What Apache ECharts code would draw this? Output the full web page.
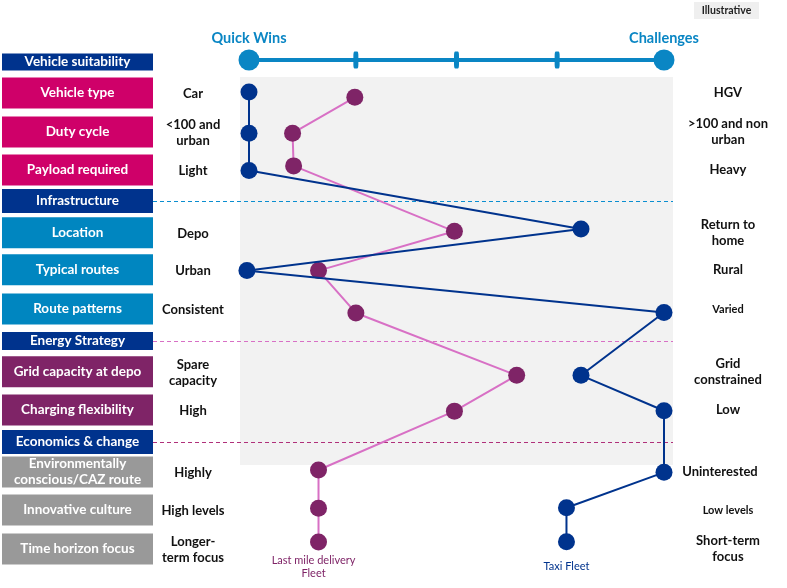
<!DOCTYPE html>
<html><head><meta charset="utf-8">
<script src="https://cdn.jsdelivr.net/npm/echarts@6/dist/echarts.min.js"></script>
<style>html,body{margin:0;padding:0;background:#fff}#c{width:787px;height:588px}</style>
</head><body><div id="c"></div>
<script>
// ---- data ----
const groups = ['Vehicle suitability', 'Infrastructure', 'Energy Strategy', 'Economics & change'];
const groupPos = [0.18, 3.79, 7.43, 10.05];
const categories = ['Vehicle type', 'Duty cycle', 'Payload required', 'Location', 'Typical routes', 'Route patterns',
  'Grid capacity at depo', 'Charging flexibility', 'Environmentally\nconscious/CAZ route', 'Innovative culture', 'Time horizon focus'];
const categoryGroup = [0, 0, 0, 1, 1, 1, 2, 2, 3, 3, 3];
const rowPos = [0.99, 2.0, 2.99, 4.62, 5.58, 6.60, 8.23, 9.22, 10.83, 11.82, 12.83];
const lowLabels = ['Car', '<100 and\nurban', 'Light', 'Depo', 'Urban', 'Consistent', 'Spare\ncapacity', 'High', 'Highly', 'High levels', 'Longer-\nterm focus'];
const highLabels = ['HGV', '>100 and non\nurban', 'Heavy', 'Return to\nhome', 'Rural', 'Varied', 'Grid\nconstrained', 'Low', 'Uninterested', 'Low levels', 'Short-term\nfocus'];
const scaleEnds = ['Quick Wins', 'Challenges'];
const scaleTicks = [1.03, 2.0, 2.97];
const scaleRow = 0.13;
const taxiName = 'Taxi Fleet';
const taxiScore = [0, 0, 0, 3.2, -0.02, 4, 3.2, 4, 4, 3.06, 3.06];
const taxiRow = [0.96, 2.03, 3.0, 4.52, 5.6, 6.69, 8.32, 9.24, 10.84, 11.76, 12.64];
const lastMileName = 'Last mile delivery\nFleet';
const lastMileScore = [1.02, 0.42, 0.43, 1.98, 0.67, 1.03, 2.58, 1.98, 0.67, 0.67, 0.67];
const lastMileRow = [1.10, 2.03, 2.88, 4.58, 5.6, 6.7, 8.32, 9.25, 10.78, 11.77, 12.65];
const tagText = 'Illustrative';

// ---- styles ----
const FONT = 'Lato, "Open Sans", sans-serif';
const NAVY = '#00338d', BLUE = '#0a86c4', MAGENTA = '#cf0069', PURPLE = '#7f2467', GREY = '#999999';
const groupColors = [MAGENTA, '#0086c0', PURPLE, GREY];
const sepColors = [null, '#0a8ed0', '#d870c5', '#b0307a'];

const chart = echarts.init(document.getElementById('c'), null, {renderer: 'canvas'});

function pts(xs, ys) { return xs.map((x, i) => [x, ys[i]]); }

const lmData = pts(lastMileScore, lastMileRow);
lmData[lmData.length - 1] = {value: lmData[lmData.length - 1], label: {show: true, position: 'bottom', distance: 3, offset: [-5, 0],
  formatter: lastMileName, color: PURPLE, fontSize: 11, lineHeight: 13, fontFamily: FONT}};
const taxiData = pts(taxiScore, taxiRow);
taxiData[taxiData.length - 1] = {value: taxiData[taxiData.length - 1], label: {show: true, position: 'bottom', distance: 11,
  formatter: taxiName, color: NAVY, fontSize: 11, fontFamily: FONT}};

chart.setOption({
  animation: false,
  grid: {left: 249, width: 415, top: 55, height: 519.75},
  xAxis: {type: 'value', min: 0, max: 4, show: false},
  yAxis: {type: 'value', min: 0, max: 13.5, inverse: true, show: false},
  series: [
    {type: 'line', data: [[0, scaleRow], [4, scaleRow]], symbol: 'none', lineStyle: {color: BLUE, width: 4}, z: 2, silent: true},
    {type: 'scatter', data: scaleTicks.map(t => [t, scaleRow]), symbol: 'roundRect', symbolSize: [5, 17], itemStyle: {color: BLUE, opacity: 1}, z: 3, silent: true},
    {type: 'scatter', data: [0, 4].map((x, i) => ({value: [x, scaleRow], label: {show: true, position: 'top', distance: 4, formatter: scaleEnds[i],
        color: BLUE, fontSize: 14.5, fontWeight: 'bold', fontFamily: FONT}})), symbolSize: 21, itemStyle: {color: BLUE, opacity: 1}, z: 3, silent: true},
    {type: 'line', name: lastMileName, data: lmData, symbol: 'circle', symbolSize: 17, lineStyle: {color: '#d870c5', width: 2},
      itemStyle: {color: PURPLE}, z: 3, silent: true, clip: false},
    {type: 'line', name: taxiName, data: taxiData, symbol: 'circle', symbolSize: 17, lineStyle: {color: NAVY, width: 2},
      itemStyle: {color: NAVY}, z: 4, silent: true, clip: false}
  ]
});

function py(v) { return chart.convertToPixel({gridIndex: 0}, [0, v])[1]; }

const g = [];
// background panel
g.push({type: 'rect', shape: {x: 240, y: 77, width: 433, height: 388}, style: {fill: '#f2f2f2'}, z: -10});
// group separators
for (let i = 1; i < groups.length; i++) {
  const y = Math.round(py(groupPos[i])) + 0.5;
  g.push({type: 'line', shape: {x1: 153, y1: y, x2: 673, y2: y}, style: {stroke: sepColors[i], lineWidth: 1.2, lineDash: [4, 3]}, z: -5});
}
// group header boxes
const headerH = [17, 24, 18, 24];
groups.forEach((name, i) => {
  const y = py(groupPos[i]);
  g.push({type: 'rect', shape: {x: 2, y: y - headerH[i] / 2, width: 151, height: headerH[i]}, style: {fill: NAVY}});
  g.push({type: 'text', x: 77.5, y: y, style: {text: name, align: 'center', verticalAlign: 'middle', fill: '#fff',
    font: 'bold 13.5px ' + FONT}});
});
// category boxes and labels
categories.forEach((name, i) => {
  const y = py(rowPos[i]);
  g.push({type: 'rect', shape: {x: 2, y: y - 15.5, width: 151, height: 31}, style: {fill: groupColors[categoryGroup[i]]}});
  g.push({type: 'text', x: 77.5, y: y, style: {text: name, align: 'center', verticalAlign: 'middle', fill: '#fff',
    font: 'bold 13.5px ' + FONT, lineHeight: 16}});
  g.push({type: 'text', x: 193, y: y + 1, style: {text: lowLabels[i], align: 'center', verticalAlign: 'middle', fill: '#111',
    font: 'bold 13px ' + FONT, lineHeight: 16}});
  const small = (i === 5 || i === 9);
  g.push({type: 'text', x: i === 8 ? 720 : 728, y: y, style: {text: highLabels[i], align: 'center', verticalAlign: 'middle', fill: '#111',
    font: 'bold ' + (small ? 11 : 13) + 'px ' + FONT, lineHeight: 16}});
});
// tag
g.push({type: 'rect', shape: {x: 694, y: 2, width: 65, height: 17}, style: {fill: '#efefef'}});
g.push({type: 'text', x: 726.5, y: 11, style: {text: tagText, align: 'center', verticalAlign: 'middle', fill: '#222', font: 'bold 10.5px ' + FONT}});

chart.setOption({graphic: {elements: g}});
</script></body></html>
